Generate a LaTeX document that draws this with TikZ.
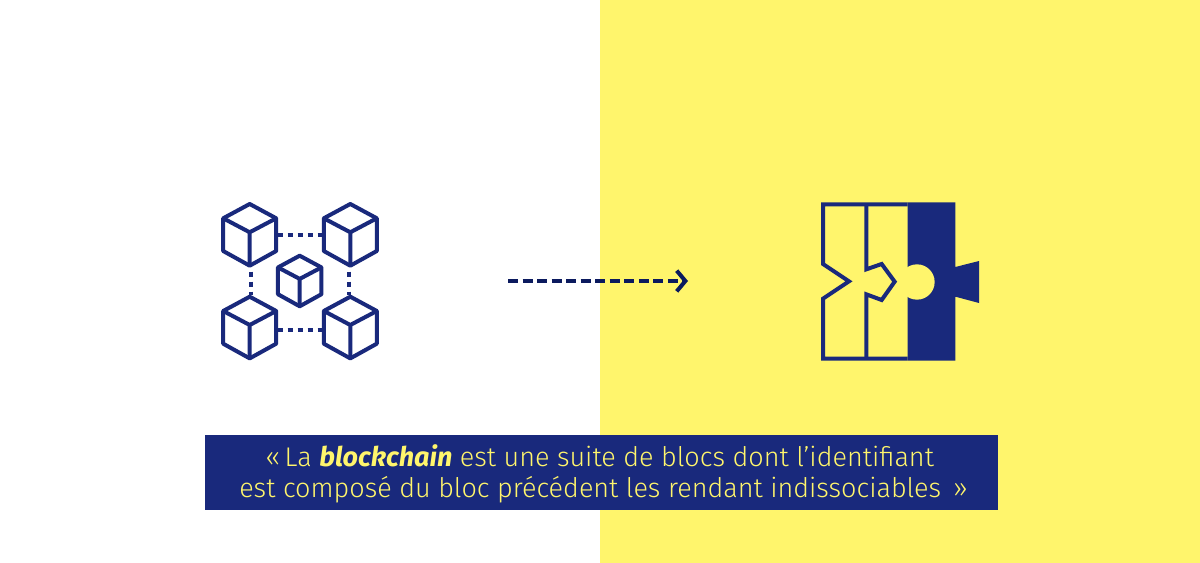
\documentclass[tikz,border=0pt]{standalone}
\usepackage{fontspec}
\setmainfont{Fira Sans Light}[BoldItalicFont={Fira Sans Bold Italic}]
\usetikzlibrary{arrows.meta}
\definecolor{navy}{HTML}{19297C}
\definecolor{darknavy}{HTML}{0B1A5E}
\definecolor{lemon}{HTML}{FFF56C}
\tikzset{
  cube/.pic={
    \draw[cubeline] (0,0) -- (26.5,14.3) -- (26.5,47) -- (0,61.7) -- (-26.5,47) -- (-26.5,14.3) -- cycle;
    \draw[cubeline] (-26.5,14.3) -- (0,28.3) -- (26.5,14.3) (0,28.3) -- (0,61.7);
    \coordinate (-e) at (28,31.3);
    \coordinate (-w) at (-28,31.3);
    \coordinate (-s) at (1,67.7);
    \coordinate (-n) at (1,-1.7);
  },
  cubeline/.style={draw=navy,line width=3pt,line join=round},
  link/.style={draw=navy,line width=3pt,dash pattern=on 3.75pt off 3.75pt},
  flow/.style={draw=darknavy,line width=3.6pt,dash pattern=on 7.5pt off 3.4pt,
    -{Straight Barb[length=6.5pt,width=15.5pt,line width=3pt]}},
  quote/.style={text=lemon,font=\fontsize{20.25pt}{24pt}\selectfont,inner sep=0pt},
  piece/.style={draw=navy,line width=3pt,miter limit=10},
}
\begin{document}
\begin{tikzpicture}[x=.75pt,y=-.75pt]
\path[use as bounding box,fill=white] (0,0) rectangle (1200,563);
\fill[lemon] (600,0) rectangle (1200,563);

% cubes
\pic (tl) at (249.7,204) {cube};
\pic (tr) at (350.3,204) {cube};
\pic (bl) at (249.7,296.7) {cube};
\pic (br) at (350.3,296.7) {cube};
\pic[scale=.82] (mid) at (299.7,255.7) {cube};
\draw[link] (tl-e) -- (tr-w);
\draw[link] ([yshift=-1.5pt]bl-e) -- ([yshift=-1.5pt]br-w);
\draw[link] (tl-s) -- (bl-n);
\draw[link] ([xshift=-1.7pt]tr-s) -- ([xshift=-1.7pt]br-n);

% arrow
\coordinate (from) at (508,281);
\coordinate (to) at (688,281);
\draw[flow] (from) -- (to);

% puzzle
\begin{scope}[shift={(810,190)},x=.25pt,y=-.25pt]
  \fill[navy] (293,37) -- (436,37) -- (436,231) -- (507,213) -- (507,339) -- (436,320) -- (436,512) -- (293,512) -- cycle;
  \fill[lemon] (321,276) circle[radius=53];
  \draw[piece] (293,43) -- (39,43) -- (39,222) -- (117,274) -- (39,326) -- (39,506) -- (293,506);
  \draw[piece] (169,43) -- (169,238) -- (215,222) -- (254,275) -- (215,330) -- (169,313) -- (169,506);
\end{scope}

% caption
\fill[navy] (205,435) rectangle (998,509.5);
\node[quote,anchor=base west] (line1) at (265,466) {«\,La \textbf{\textit{blockchain}} est une suite de blocs dont l’identifiant};
\node[quote,anchor=base west] (line2) at (239,497) {est composé du bloc précédent les rendant indissociables\, »};
\end{tikzpicture}
\end{document}
